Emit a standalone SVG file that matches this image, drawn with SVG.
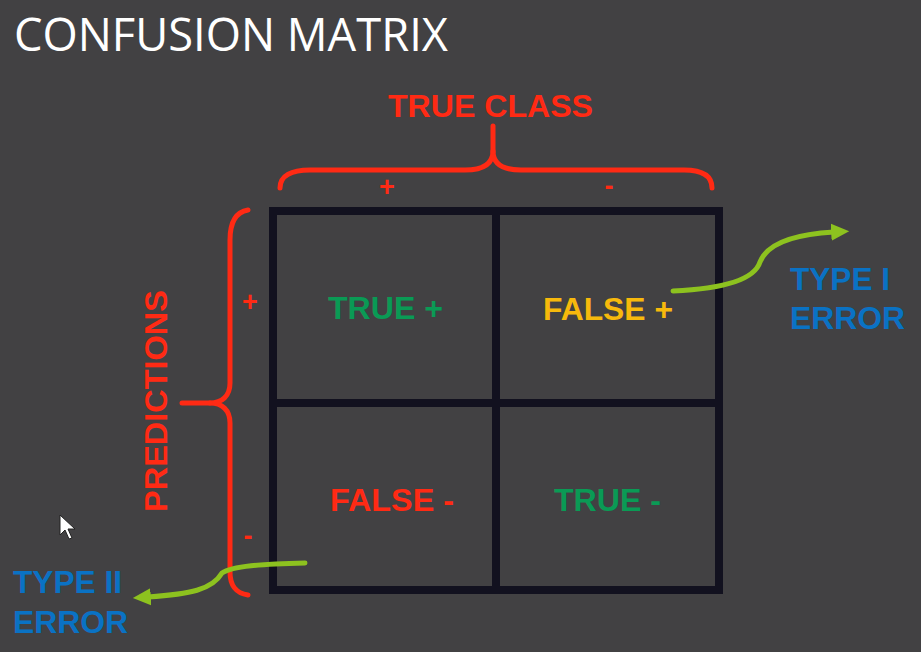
<svg xmlns="http://www.w3.org/2000/svg" width="921" height="652" viewBox="0 0 921 652">
<defs>
<style>
.bold{font-family:"Liberation Sans",Arial,sans-serif;font-weight:bold}
.lbl{font-size:32px;text-anchor:start}
.red{fill:#ff2a14}
.green{fill:#0a9a55}
.yellow{fill:#f7b90c}
.blue{fill:#0a72c4}
.brace{fill:none;stroke:#ff2a14;stroke-width:5;stroke-linecap:round;stroke-linejoin:round}
.grid{fill:none;stroke:#12111f;stroke-width:8}
.conn{fill:none;stroke:#8dc21f;stroke-width:5;stroke-linecap:round}
.sign{font-size:27px;text-anchor:middle}
</style>
<marker id="arr" viewBox="0 0 20 20" refX="3" refY="10" markerWidth="19" markerHeight="19" markerUnits="userSpaceOnUse" orient="auto">
<path d="M0,1 L19,10 L0,19 z" fill="#8dc21f"/>
</marker>
</defs>
<rect x="0" y="0" width="921" height="652" fill="#424143"/>

<g id="title">
<text x="14" y="51" font-family="'Open Sans','Liberation Sans',sans-serif" font-size="45" fill="#ffffff" textLength="434" lengthAdjust="spacingAndGlyphs">CONFUSION MATRIX</text>
</g>

<g id="true-class">
<text class="bold red" x="388" y="117" font-size="31" textLength="205" lengthAdjust="spacingAndGlyphs">TRUE CLASS</text>
<path class="brace" d="M280,188 C280,176 291,170 310,170 L465,170 C483,170 493,164 493,151 C493,164 503,170 521,170 L684,170 C703,170 712,176 712,188"/>
<path class="brace" d="M493,152 L493,126"/>
<text class="bold red sign" x="387" y="196">+</text>
<text class="bold red sign" x="609" y="195">-</text>
</g>

<g id="predictions">
<text class="bold red" transform="translate(167,512) rotate(-90)" x="0" y="0" font-size="32" textLength="222" lengthAdjust="spacingAndGlyphs">PREDICTIONS</text>
<path class="brace" d="M248,210 C236,212 230,222 230,240 L230,383 C230,396 222,403 210,403 C222,403 230,410 230,423 L230,572 C230,586 236,593 248,595"/>
<path class="brace" d="M210,403 L182,403"/>
<text class="bold red sign" x="250" y="311">+</text>
<text class="bold red sign" x="248" y="545">-</text>
</g>

<g id="matrix">
<rect class="grid" x="273" y="211" width="446" height="379"/>
<line class="grid" x1="496" y1="211" x2="496" y2="590"/>
<line class="grid" x1="273" y1="403" x2="719" y2="403"/>
</g>

<g id="true-positive">
<text class="bold lbl green" x="328" y="319" textLength="115" lengthAdjust="spacingAndGlyphs">TRUE +</text>
</g>
<g id="false-positive">
<text class="bold lbl yellow" x="543" y="320" textLength="130" lengthAdjust="spacingAndGlyphs">FALSE +</text>
</g>
<g id="false-negative">
<text class="bold lbl red" x="330" y="511" textLength="124" lengthAdjust="spacingAndGlyphs">FALSE -</text>
</g>
<g id="true-negative">
<text class="bold lbl green" x="554" y="511" textLength="107" lengthAdjust="spacingAndGlyphs">TRUE -</text>
</g>

<g id="type-1-error">
<text class="bold lbl blue" x="790" y="290" textLength="100" lengthAdjust="spacingAndGlyphs">TYPE I</text>
<text class="bold lbl blue" x="790" y="329" textLength="115" lengthAdjust="spacingAndGlyphs">ERROR</text>
</g>
<g id="type-2-error">
<text class="bold lbl blue" x="13" y="593" textLength="109" lengthAdjust="spacingAndGlyphs">TYPE II</text>
<text class="bold lbl blue" x="13" y="633" textLength="115" lengthAdjust="spacingAndGlyphs">ERROR</text>
</g>

<g id="connectors">
<path class="conn" d="M673,291 C718,289 754,281 760,262 C768,242 798,234 834,232" marker-end="url(#arr)"/>
<path class="conn" d="M305,563 C262,564 232,566 222,573 C212,590 190,594 148,597" marker-end="url(#arr)"/>
</g>

<polygon points="60,515 60,535 65,530 69,539 72,538 68,529 75,529" fill="#ffffff" stroke="#222222" stroke-width="1"/>
</svg>
